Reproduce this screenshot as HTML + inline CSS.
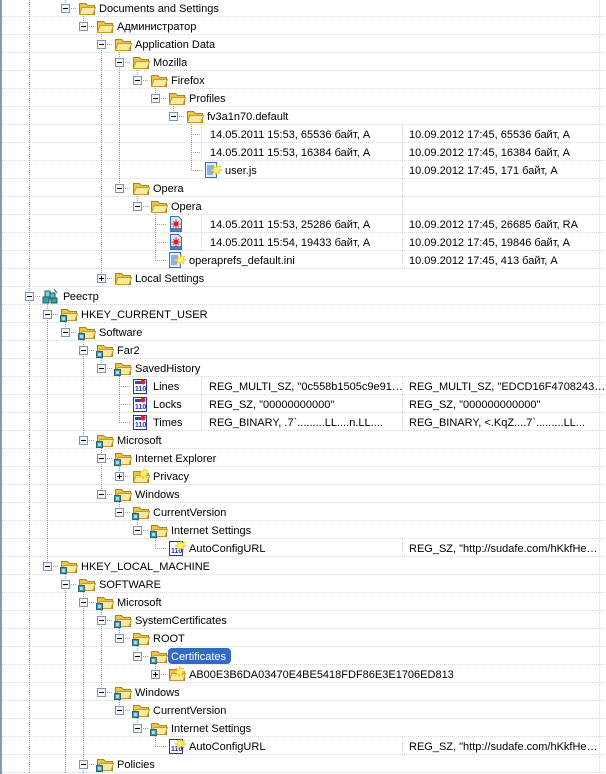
<!DOCTYPE html>
<html><head><meta charset="utf-8"><style>
html,body{margin:0;padding:0;background:#fff;width:606px;height:774px;overflow:hidden}
svg{display:block}
text{font-family:"Liberation Sans",Arial,sans-serif;font-size:11px;fill:#000}
</style></head><body>
<svg width="606" height="774" viewBox="0 0 606 774" xmlns="http://www.w3.org/2000/svg">
<defs>
<symbol id="f" viewBox="0 0 18 16"><path d="M1.5,3.5 h6 l2,2 h7 v9 h-15z" fill="#e9c54e" stroke="#a8851e"/><path d="M1.5,14.5 l2.5,-7 h13.5 l-2.5,7z" fill="#fce99c" stroke="#c29a2c"/></symbol>
<symbol id="r" viewBox="0 0 18 16"><use href="#f" width="18" height="16"/><rect x="0.5" y="9.5" width="6" height="6" fill="#4a9aa8" stroke="#2c6470"/><rect x="2" y="11" width="3" height="3" fill="#9fe0e6"/></symbol>
<symbol id="s" viewBox="0 0 18 16"><path d="M1.5,3.5 h6 l2,2 h7 v9 h-15z" fill="#e9c54e" stroke="#a8851e"/><path d="M1.5,14.5 l2.5,-7 h13.5 l-2.5,7z" fill="#fce99c" stroke="#c29a2c"/><path d="M12,0 l1,3 3,-1 -2,3 3,1 -3,1 1,3 -3,-2 -1,3 -1,-3 -3,2 2,-3 -3,-1 3,-1 -1,-3 3,2z" fill="#fff36a" stroke="#d8b400" stroke-width="0.5"/></symbol>
<symbol id="js" viewBox="0 0 18 16"><rect x="1.5" y="0.5" width="11" height="15" fill="#e8f0fb" stroke="#3a6fb8"/><path d="M3,4h7M3,6h7M3,8h7M3,10h6M3,12h6" stroke="#3a6fb8"/><path d="M13,2 l1,3 3,-1 -2,3 3,1 -3,1 1,3 -3,-2 -1,3 -1,-3 -3,2 2,-3 -3,-1 3,-1 -1,-3 3,2z" fill="#fff36a" stroke="#d8b400" stroke-width="0.5"/></symbol>
<symbol id="red" viewBox="0 0 18 16"><path d="M2.5,0.5 h8 l3,3 v12 h-11z" fill="#dce8f8" stroke="#3a6fb8"/><rect x="3" y="12" width="10" height="3" fill="#4a7fc8"/><circle cx="8" cy="8" r="2.5" fill="#e02020"/><path d="M8,3v10M3,8h10M5,5l6,6M11,5l-6,6" stroke="#e02020" stroke-width="0.8"/></symbol>
<symbol id="reg" viewBox="0 0 18 16"><rect x="1.5" y="1.5" width="13" height="14" fill="#fff" stroke="#3030a0"/><text x="3" y="13" style="font-size:7px;fill:#2030c0;font-weight:bold">110</text><rect x="3" y="3" width="9" height="3" fill="#4040c0"/><circle cx="11" cy="4" r="2.5" fill="#e02020"/></symbol>
<symbol id="regs" viewBox="0 0 18 16"><rect x="1.5" y="1.5" width="13" height="14" fill="#fff" stroke="#3030a0"/><text x="3" y="13" style="font-size:7px;fill:#2030c0;font-weight:bold">110</text><path d="M13,0 l1,3 3,-1 -2,3 3,1 -3,1 1,3 -3,-2 -1,3 -1,-3 -3,2 2,-3 -3,-1 3,-1 -1,-3 3,2z" fill="#fff36a" stroke="#d8b400" stroke-width="0.5"/></symbol>
<symbol id="root" viewBox="0 0 18 16"><rect x="1" y="9" width="6" height="6" fill="#3aa0a8" stroke="#1c5a60"/><rect x="7" y="5" width="6" height="6" fill="#58c0c8" stroke="#1c5a60"/><rect x="9" y="10" width="6" height="5" fill="#3aa0a8" stroke="#1c5a60"/><rect x="3" y="3" width="5" height="6" fill="#7ad0d8" stroke="#1c5a60"/><path d="M12,1 l3,4" stroke="#1c5a60"/></symbol>
</defs>
<!-- row separators -->
<g stroke="#d8d8d8" stroke-dasharray="1 1">
<path d="M2,16.5H606M2,34.5H606M2,52.5H606M2,70.5H606M2,88.5H606M2,106.5H606M2,124.5H606M2,142.5H606M2,160.5H606M2,178.5H606M2,196.5H606M2,214.5H606M2,232.5H606M2,250.5H606M2,268.5H606M2,286.5H606M2,304.5H606M2,322.5H606M2,340.5H606M2,358.5H606M2,376.5H606M2,394.5H606M2,412.5H606M2,430.5H606M2,448.5H606M2,466.5H606M2,484.5H606M2,502.5H606M2,520.5H606M2,538.5H606M2,556.5H606M2,574.5H606M2,592.5H606M2,610.5H606M2,628.5H606M2,646.5H606M2,664.5H606M2,682.5H606M2,700.5H606M2,718.5H606M2,736.5H606M2,754.5H606M2,772.5H606"/>
<path d="M599.5,0V774"/>
<path d="M201.5,125V161M201.5,215V251M201.5,377V431M402.5,125V269M402.5,377V431M402.5,539V557M402.5,737V755"/>
</g>
<rect x="0" y="0" width="2" height="774" fill="#7f9db9"/>
<!-- tree lines -->
<g stroke="#a0a0a0" stroke-dasharray="1 1">
<path d="M65.5,0V8M83.5,8V26M101.5,26V278M119.5,44V188M137.5,62V80M155.5,80V98M173.5,98V116M191.5,116V170M137.5,188V206M155.5,206V260M29.5,0V774M47.5,296V566M65.5,314V332M83.5,332V440M101.5,350V368M119.5,368V422M101.5,440V494M119.5,458V476M119.5,494V512M137.5,512V530M155.5,530V548M65.5,566V774M83.5,584V774M101.5,602V692M119.5,620V638M137.5,638V656M155.5,656V674M119.5,692V710M137.5,710V728M155.5,728V746"/>
<path d="M65,8.5h12M83,26.5h12M101,44.5h12M119,62.5h12M137,80.5h12M155,98.5h12M173,116.5h12M191,134.5h10M191,152.5h10M191,170.5h12M119,188.5h12M137,206.5h12M155,224.5h12M155,242.5h12M155,260.5h12M101,278.5h12M29,296.5h12M47,314.5h12M65,332.5h12M83,350.5h12M101,368.5h12M119,386.5h12M119,404.5h12M119,422.5h12M83,440.5h12M101,458.5h12M119,476.5h12M101,494.5h12M119,512.5h12M137,530.5h12M155,548.5h12M47,566.5h12M65,584.5h12M83,602.5h12M101,620.5h12M119,638.5h12M137,656.5h12M155,674.5h12M101,692.5h12M119,710.5h12M137,728.5h12M155,746.5h12M83,764.5h12"/>
</g>
<!-- expander boxes -->
<g fill="#f4f6f8" stroke="#7a96b4">
<rect x="61.5" y="4.5" width="8" height="8"/><rect x="79.5" y="22.5" width="8" height="8"/><rect x="97.5" y="40.5" width="8" height="8"/><rect x="115.5" y="58.5" width="8" height="8"/><rect x="133.5" y="76.5" width="8" height="8"/><rect x="151.5" y="94.5" width="8" height="8"/><rect x="169.5" y="112.5" width="8" height="8"/><rect x="115.5" y="184.5" width="8" height="8"/><rect x="133.5" y="202.5" width="8" height="8"/><rect x="97.5" y="274.5" width="8" height="8"/><rect x="25.5" y="292.5" width="8" height="8"/><rect x="43.5" y="310.5" width="8" height="8"/><rect x="61.5" y="328.5" width="8" height="8"/><rect x="79.5" y="346.5" width="8" height="8"/><rect x="97.5" y="364.5" width="8" height="8"/><rect x="79.5" y="436.5" width="8" height="8"/><rect x="97.5" y="454.5" width="8" height="8"/><rect x="115.5" y="472.5" width="8" height="8"/><rect x="97.5" y="490.5" width="8" height="8"/><rect x="115.5" y="508.5" width="8" height="8"/><rect x="133.5" y="526.5" width="8" height="8"/><rect x="43.5" y="562.5" width="8" height="8"/><rect x="61.5" y="580.5" width="8" height="8"/><rect x="79.5" y="598.5" width="8" height="8"/><rect x="97.5" y="616.5" width="8" height="8"/><rect x="115.5" y="634.5" width="8" height="8"/><rect x="133.5" y="652.5" width="8" height="8"/><rect x="151.5" y="670.5" width="8" height="8"/><rect x="97.5" y="688.5" width="8" height="8"/><rect x="115.5" y="706.5" width="8" height="8"/><rect x="133.5" y="724.5" width="8" height="8"/><rect x="79.5" y="760.5" width="8" height="8"/>
</g>
<g stroke="#000">
<path d="M63,8.5h5M81,26.5h5M99,44.5h5M117,62.5h5M135,80.5h5M153,98.5h5M171,116.5h5M117,188.5h5M135,206.5h5M99,278.5h5M27,296.5h5M45,314.5h5M63,332.5h5M81,350.5h5M99,368.5h5M81,440.5h5M99,458.5h5M117,476.5h5M99,494.5h5M117,512.5h5M135,530.5h5M45,566.5h5M63,584.5h5M81,602.5h5M99,620.5h5M117,638.5h5M135,656.5h5M153,674.5h5M99,692.5h5M117,710.5h5M135,728.5h5M81,764.5h5"/>
<path d="M101.5,276V281M119.5,474V479M155.5,672V677"/>
</g>
<!-- icons -->
<use href="#f" x="78" y="0" width="18" height="16"/>
<use href="#f" x="96" y="18" width="18" height="16"/>
<use href="#f" x="114" y="36" width="18" height="16"/>
<use href="#f" x="132" y="54" width="18" height="16"/>
<use href="#f" x="150" y="72" width="18" height="16"/>
<use href="#f" x="168" y="90" width="18" height="16"/>
<use href="#f" x="186" y="108" width="18" height="16"/>
<use href="#js" x="204" y="162" width="18" height="16"/>
<use href="#f" x="132" y="180" width="18" height="16"/>
<use href="#f" x="150" y="198" width="18" height="16"/>
<use href="#red" x="168" y="216" width="18" height="16"/>
<use href="#red" x="168" y="234" width="18" height="16"/>
<use href="#js" x="168" y="252" width="18" height="16"/>
<use href="#f" x="114" y="270" width="18" height="16"/>
<use href="#root" x="42" y="288" width="18" height="16"/>
<use href="#r" x="60" y="306" width="18" height="16"/>
<use href="#r" x="78" y="324" width="18" height="16"/>
<use href="#r" x="96" y="342" width="18" height="16"/>
<use href="#r" x="114" y="360" width="18" height="16"/>
<use href="#reg" x="132" y="378" width="18" height="16"/>
<use href="#reg" x="132" y="396" width="18" height="16"/>
<use href="#reg" x="132" y="414" width="18" height="16"/>
<use href="#r" x="96" y="432" width="18" height="16"/>
<use href="#r" x="114" y="450" width="18" height="16"/>
<use href="#s" x="132" y="468" width="18" height="16"/>
<use href="#r" x="114" y="486" width="18" height="16"/>
<use href="#r" x="132" y="504" width="18" height="16"/>
<use href="#r" x="150" y="522" width="18" height="16"/>
<use href="#regs" x="168" y="540" width="18" height="16"/>
<use href="#r" x="60" y="558" width="18" height="16"/>
<use href="#r" x="78" y="576" width="18" height="16"/>
<use href="#r" x="96" y="594" width="18" height="16"/>
<use href="#r" x="114" y="612" width="18" height="16"/>
<use href="#r" x="132" y="630" width="18" height="16"/>
<use href="#r" x="150" y="648" width="18" height="16"/>
<use href="#s" x="168" y="666" width="18" height="16"/>
<use href="#r" x="114" y="684" width="18" height="16"/>
<use href="#r" x="132" y="702" width="18" height="16"/>
<use href="#r" x="150" y="720" width="18" height="16"/>
<use href="#regs" x="168" y="738" width="18" height="16"/>
<use href="#r" x="96" y="756" width="18" height="16"/>
<!-- selection -->
<rect x="168" y="648" width="63" height="16" rx="4" fill="#316ac5"/>
<!-- labels -->
<text x="99" y="12">Documents and Settings</text>
<text x="117" y="30">Администратор</text>
<text x="135" y="48">Application Data</text>
<text x="153" y="66">Mozilla</text>
<text x="171" y="84">Firefox</text>
<text x="189" y="102">Profiles</text>
<text x="207" y="120">fv3a1n70.default</text>
<text x="210" y="138">14.05.2011 15:53, 65536 байт, A</text><text x="409" y="138">10.09.2012 17:45, 65536 байт, A</text>
<text x="210" y="156">14.05.2011 15:53, 16384 байт, A</text><text x="409" y="156">10.09.2012 17:45, 16384 байт, A</text>
<text x="225" y="174">user.js</text><text x="409" y="174">10.09.2012 17:45, 171 байт, A</text>
<text x="153" y="192">Opera</text>
<text x="171" y="210">Opera</text>
<text x="210" y="228">14.05.2011 15:53, 25286 байт, A</text><text x="409" y="228">10.09.2012 17:45, 26685 байт, RA</text>
<text x="210" y="246">14.05.2011 15:54, 19433 байт, A</text><text x="409" y="246">10.09.2012 17:45, 19846 байт, A</text>
<text x="189" y="264">operaprefs_default.ini</text><text x="409" y="264">10.09.2012 17:45, 413 байт, A</text>
<text x="135" y="282">Local Settings</text>
<text x="63" y="300">Реестр</text>
<text x="81" y="318">HKEY_CURRENT_USER</text>
<text x="99" y="336">Software</text>
<text x="117" y="354">Far2</text>
<text x="135" y="372">SavedHistory</text>
<text x="153" y="390">Lines</text><text x="209" y="390">REG_MULTI_SZ, "0c558b1505c9e91…</text><text x="409" y="390">REG_MULTI_SZ, "EDCD16F4708243…</text>
<text x="153" y="408">Locks</text><text x="209" y="408">REG_SZ, "00000000000"</text><text x="409" y="408">REG_SZ, "000000000000"</text>
<text x="153" y="426">Times</text><text x="209" y="426">REG_BINARY, .7`.........LL....n.LL....</text><text x="409" y="426">REG_BINARY, &lt;.KqZ....7`.........LL...</text>
<text x="117" y="444">Microsoft</text>
<text x="135" y="462">Internet Explorer</text>
<text x="153" y="480">Privacy</text>
<text x="135" y="498">Windows</text>
<text x="153" y="516">CurrentVersion</text>
<text x="171" y="534">Internet Settings</text>
<text x="189" y="552">AutoConfigURL</text><text x="409" y="552">REG_SZ, "http://sudafe.com/hKkfHe…</text>
<text x="81" y="570">HKEY_LOCAL_MACHINE</text>
<text x="99" y="588">SOFTWARE</text>
<text x="117" y="606">Microsoft</text>
<text x="135" y="624">SystemCertificates</text>
<text x="153" y="642">ROOT</text>
<text x="171" y="660" style="fill:#fff">Certificates</text>
<text x="189" y="678">AB00E3B6DA03470E4BE5418FDF86E3E1706ED813</text>
<text x="135" y="696">Windows</text>
<text x="153" y="714">CurrentVersion</text>
<text x="171" y="732">Internet Settings</text>
<text x="189" y="750">AutoConfigURL</text><text x="409" y="750">REG_SZ, "http://sudafe.com/hKkfHe…</text>
<text x="117" y="768">Policies</text>
</svg>
</body></html>
